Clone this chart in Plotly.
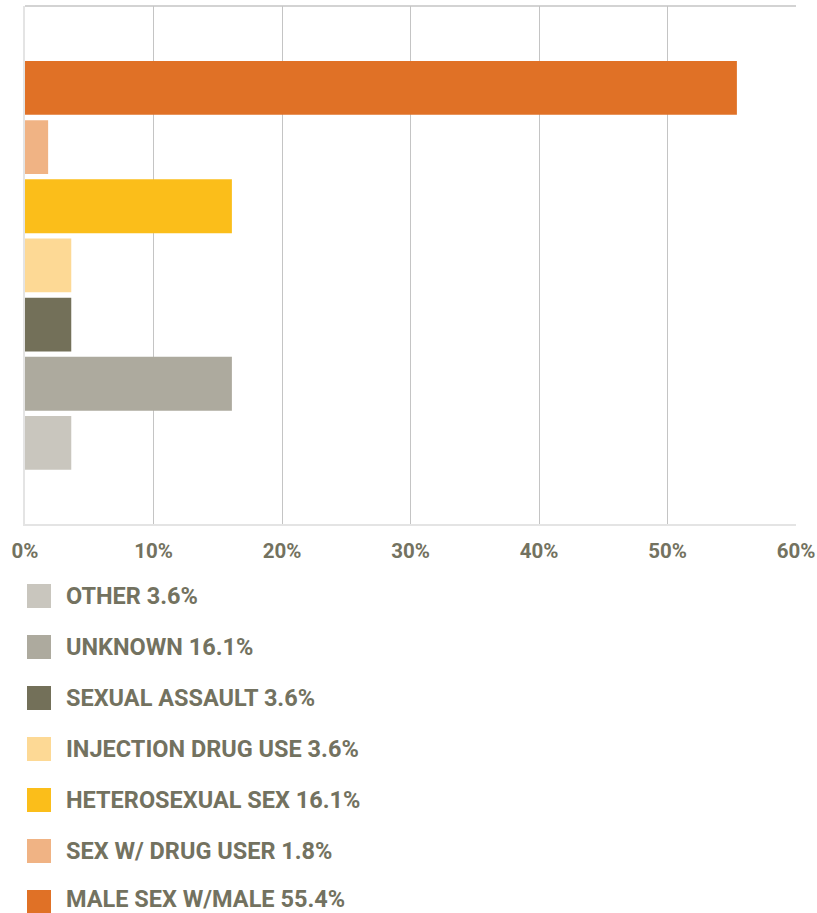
import plotly.graph_objects as go

# Transmission categories, listed bottom bar first
categories = ["OTHER", "UNKNOWN", "SEXUAL ASSAULT", "INJECTION DRUG USE",
              "HETEROSEXUAL SEX", "SEX W/ DRUG USER", "MALE SEX W/MALE"]
values = [3.6, 16.1, 3.6, 3.6, 16.1, 1.8, 55.4]
colors = ["#C9C6BE", "#ADAA9E", "#737059", "#FDD995", "#FBBE1A", "#F0B384", "#E07126"]
tick_vals = [0, 10, 20, 30, 40, 50, 60]
tick_text = ["0%", "10%", "20%", "30%", "40%", "50%", "60%"]

W, H = 817, 913
ML, MR, MT, MB = 25, 21, 6, 389
TEXT_COLOR = "#737260"
FONT = "Roboto, Liberation Sans, sans-serif"

positions = list(range(len(categories)))

fig = go.Figure(go.Bar(
    x=values,
    y=positions,
    orientation="h",
    width=0.91,
    marker=dict(color=colors, line=dict(width=0)),
    hovertext=categories,
    showlegend=False,
))

# Custom legend below the plot: square swatch plus label with value
plot_h = H - MT - MB
plot_w = W - ML - MR
legend_centers = [596, 647, 698, 749, 800, 851, 899]
shapes = [
    # top frame line
    dict(type="line", xref="paper", yref="paper", x0=0, x1=1, y0=1, y1=1,
         line=dict(color="#C4C4C4", width=1.5)),
]
annotations = []
for cat, val, col, cy in zip(categories, values, colors, legend_centers):
    swatch_cy = cy if cy < 899 else 902
    y0 = (H - MB - (swatch_cy + 12)) / plot_h
    y1 = (H - MB - (swatch_cy - 12)) / plot_h
    shapes.append(dict(type="rect", xref="paper", yref="paper",
                       x0=(27 - ML) / plot_w, x1=(51 - ML) / plot_w,
                       y0=y0, y1=y1, fillcolor=col, line=dict(width=0)))
    annotations.append(dict(xref="paper", yref="paper",
                            x=(65 - ML) / plot_w, y=(H - MB - cy) / plot_h,
                            xanchor="left", yanchor="middle", showarrow=False,
                            borderpad=0,
                            text=f"<b>{cat} {val}%</b>",
                            font=dict(family=FONT, size=23.5, color=TEXT_COLOR)))

fig.update_layout(
    width=W, height=H,
    margin=dict(l=ML, r=MR, t=MT, b=MB),
    paper_bgcolor="white", plot_bgcolor="white",
    shapes=shapes, annotations=annotations,
    xaxis=dict(range=[0, 60], tickvals=tick_vals, ticktext=[f"<b>{t}</b>" for t in tick_text],
               showgrid=True, gridcolor="#C4C4C4", gridwidth=1,
               showline=True, linecolor="#E4E4E4", linewidth=1.5,
               zeroline=False, ticks="", ticklabelstandoff=8,
               ticklabeloverflow="allow", automargin=False,
               tickfont=dict(family=FONT, size=20.5, color=TEXT_COLOR)),
    yaxis=dict(range=[-1.37, 7.385], showticklabels=False, showgrid=False,
               zeroline=False, showline=True, linecolor="#E4E4E4", linewidth=1.5),
)

fig.write_html("out.html")
